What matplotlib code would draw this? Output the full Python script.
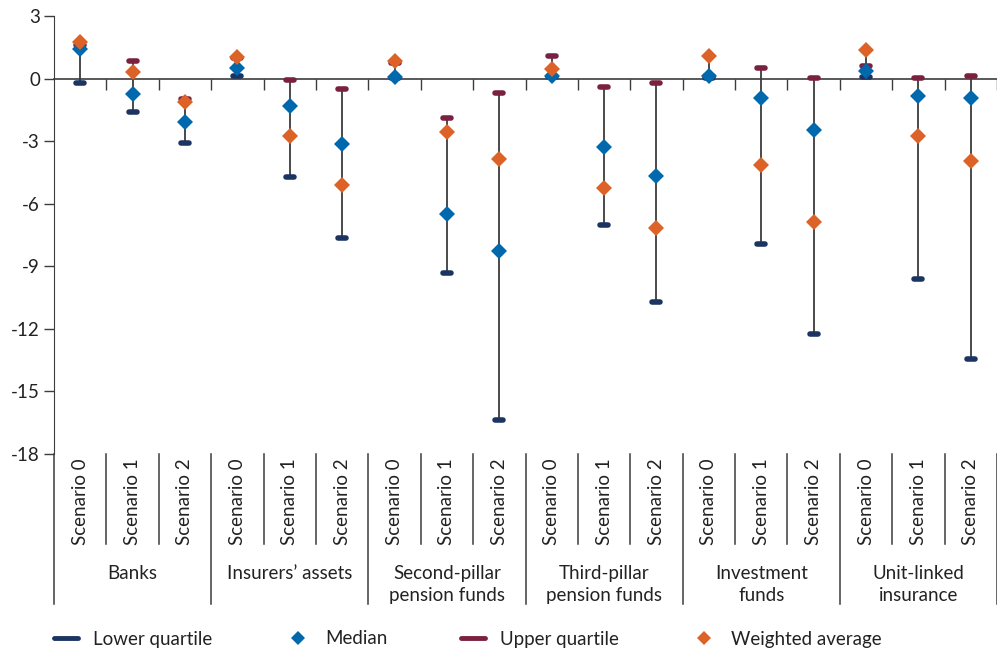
import numpy as np
import matplotlib.pyplot as plt
from matplotlib.lines import Line2D
from matplotlib.markers import MarkerStyle
import matplotlib.transforms as mtransforms

plt.rcParams['font.family'] = ['Lato', 'DejaVu Sans']
plt.rcParams['axes.unicode_minus'] = False

groups = ['Banks', 'Insurers\u2019 assets', 'Second-pillar\npension funds',
          'Third-pillar\npension funds', 'Investment\nfunds', 'Unit-linked\ninsurance']
scenarios = ['Scenario 0', 'Scenario 1', 'Scenario 2']

# values per (group, scenario), in group order
lower_q = [-0.2, -1.6, -3.1,
           0.13, -4.72, -7.66,
           0.02, -9.31, -16.37,
           0.08, -7.03, -10.69,
           0.02, -7.94, -12.26,
           0.06, -9.6, -13.44]
median = [1.4, -0.75, -2.1,
          0.53, -1.3, -3.12,
          0.08, -6.51, -8.27,
          0.14, -3.28, -4.69,
          0.1, -0.93, -2.48,
          0.35, -0.83, -0.93]
upper_q = [1.6, 0.86, -0.97,
           0.97, -0.05, -0.5,
           0.75, -1.89, -0.69,
           1.06, -0.42, -0.22,
           0.12, 0.5, 0.03,
           0.59, 0.05, 0.13]
weighted_avg = [1.75, 0.3, -1.1,
                1.02, -2.75, -5.12,
                0.83, -2.56, -3.86,
                0.48, -5.23, -7.17,
                1.1, -4.13, -6.88,
                1.38, -2.75, -3.95]

c_lower = '#1c3462'
c_upper = '#7a2142'
c_median = '#0068ad'
c_wavg = '#dc6228'
c_axis = '#3c3c3c'
c_text = '#222222'
FS = 13.5

x = np.arange(len(median))
lo = np.minimum.reduce([lower_q, median, upper_q, weighted_avg])
hi = np.maximum.reduce([lower_q, median, upper_q, weighted_avg])

fig = plt.figure(figsize=(9.97, 6.5), dpi=100)
ax = fig.add_axes([54 / 997, 1 - 454 / 650, 943 / 997, 438 / 650])

ax.vlines(x, lo, hi, color=c_axis, lw=1.3, zorder=2)
bar = MarkerStyle('_', capstyle='round')
ax.plot(x, lower_q, ls='none', marker=bar, ms=5.5, mew=4, color=c_lower, zorder=3)
ax.plot(x, upper_q, ls='none', marker=bar, ms=5.5, mew=4, color=c_upper, zorder=3)
ax.plot(x, median, ls='none', marker='D', ms=8, color=c_median, mew=0, zorder=4)
ax.plot(x, weighted_avg, ls='none', marker='D', ms=8, color=c_wavg, mew=0, zorder=5)

ax.set_xlim(-0.5, 17.5)
ax.set_ylim(-18, 3)
ax.set_yticks(np.arange(-18, 4, 3))
ax.tick_params(axis='y', length=7, width=1, color=c_axis, labelsize=FS, pad=3,
               labelcolor=c_text)
ax.spines['left'].set_color(c_axis)
ax.spines['top'].set_visible(False)
ax.spines['right'].set_visible(False)
ax.spines['bottom'].set_position(('data', 0))
ax.spines['bottom'].set_color(c_axis)
ax.spines['bottom'].set_linewidth(1.2)
ax.set_xticks(np.arange(0.5, 18, 1))
ax.set_xticklabels([])
ax.tick_params(axis='x', length=8, width=1, color=c_axis, direction='out')

# category labels below the plot
trans = mtransforms.blended_transform_factory(ax.transData, ax.transAxes)
for i in x:
    ax.text(i, -0.009, scenarios[i % 3], rotation=90, ha='center', va='top',
            fontsize=FS, color=c_text, transform=trans)
for g, name in enumerate(groups):
    ax.text(g * 3 + 1, -0.253, name, ha='center', va='top', fontsize=FS,
            color=c_text, linespacing=1.38, transform=trans)
for b in np.arange(-0.5, 18, 1):
    end = -0.342 if (b + 0.5) % 3 == 0 else -0.2055
    ax.add_line(Line2D([b, b], [0, end], transform=trans, color=c_axis,
                       lw=1.1, clip_on=False))

handles = [
    Line2D([], [], color=c_lower, lw=3.5, solid_capstyle='round'),
    Line2D([], [], ls='none', marker='D', ms=7.5, color=c_median, mew=0),
    Line2D([], [], color=c_upper, lw=3.5, solid_capstyle='round'),
    Line2D([], [], ls='none', marker='D', ms=7.5, color=c_wavg, mew=0),
]
labels = ['Lower quartile', 'Median', 'Upper quartile', 'Weighted average']
fig.legend(handles, labels, loc='center left', bbox_to_anchor=(37 / 997, 1 - 639 / 650),
           ncol=4, frameon=False, fontsize=FS, handlelength=1.3, handletextpad=0.8,
           columnspacing=3.9, labelcolor=c_text)

fig.savefig('out.png', dpi=100)
